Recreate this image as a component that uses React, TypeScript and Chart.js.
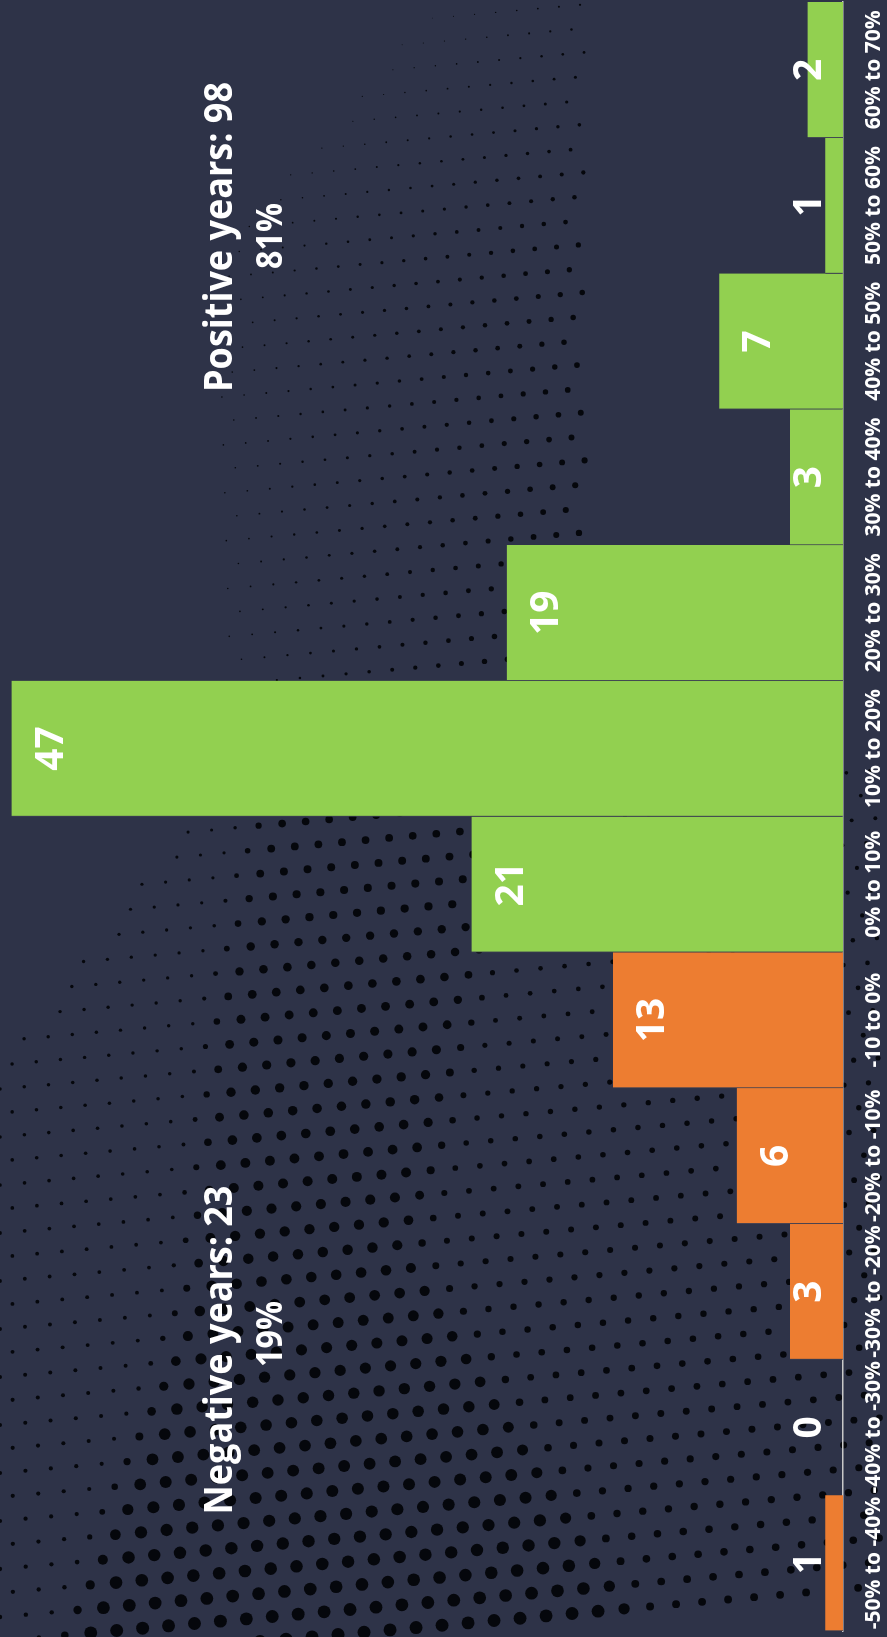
import React, { useEffect, useRef } from 'react';
import { Chart, registerables } from 'chart.js';

Chart.register(...registerables);

// ---- data ----
const categories = [
  '-50% to -40%',
  '-40% to -30%',
  '-30% to -20%',
  '-20% to -10%',
  '-10 to 0%',
  '0% to 10%',
  '10% to 20%',
  '20% to 30%',
  '30% to 40%',
  '40% to 50%',
  '50% to 60%',
  '60% to 70%',
];
const yearCounts = [1, 0, 3, 6, 13, 21, 47, 19, 3, 7, 1, 2];
const negativeNote = ['Negative years: 23', '19%'];
const positiveNote = ['Positive years: 98', '81%'];

// ---- styles ----
const W = 887;
const H = 1637;
const BG = '#2e3348';
const ORANGE = '#ed7d31';
const GREEN = '#92d050';
const FONT = '"Open Sans", "DejaVu Sans", sans-serif';

const clamp01 = (v: number) => Math.min(1, Math.max(0, v));
const smooth = (a: number, b: number, v: number) => {
  const t = clamp01((v - a) / (b - a));
  return t * t * (3 - 2 * t);
};

// decorative halftone background (portrait coordinates)
function dotRadius(x: number, y: number): number {
  if (y < 760) {
    const L = y < 250 ? 450 - y * 0.8 : 240;
    if (x < L - 20 || x > 585) return 0;
    const f = clamp01((x - L) / (580 - L));
    const fadeTop = y < 250 ? 0.5 + 0.5 * (y / 250) : 1;
    return (0.8 + 2.8 * f * (0.5 + 0.5 * y / 760)) * fadeTop;
  }
  const k = (y - 760) / 877;
  const xl = y < 1000 ? 280 - (y - 760) * 0.2 : y < 1300 ? 232 - (y - 1000) * 0.1 : 202 - (y - 1300) * 0.35;
  const xr = y < 900 ? 480 : y < 1250 ? 480 - (y - 900) * 0.23 : 400 + (y - 1250) * 0.6;
  const leftStart = y < 1060 ? 240 - (y - 760) * 0.8 : -10;
  if (x < leftStart) return 0;
  const small = 1.5 + 0.7 * k;
  const big = 3.6 + 2.9 * k;
  const right = 1.8 + 2.2 * k;
  const inBand = smooth(xl - 40, xl + 10, x) * (1 - smooth(xr - 10, xr + 40, x));
  const base = x < xl ? small : right;
  return base + (big - base) * inBand;
}

function drawDots(ctx: CanvasRenderingContext2D) {
  ctx.fillStyle = BG;
  ctx.fillRect(0, 0, W, H);
  ctx.fillStyle = '#030409';
  let row = 0;
  for (let Y = 6; Y < H + 20; Y += 24, row++) {
    const sx = 21 + 5 * (Y / H);
    const offset = (row % 2) * sx * 0.5;
    for (let X = offset; X < 880; X += sx) {
      const yy = Y - 0.09 * (X - 300);
      const r = dotRadius(X, yy);
      if (r <= 0.3) continue;
      ctx.globalAlpha = 0.94;
      ctx.beginPath();
      ctx.arc(X, yy, r, 0, Math.PI * 2);
      ctx.fill();
    }
  }
  ctx.globalAlpha = 1;
}

function drawScaled(ctx: CanvasRenderingContext2D, text: string, cx: number, baseline: number, sx: number) {
  ctx.save();
  ctx.translate(cx, baseline);
  ctx.scale(sx, 1);
  ctx.fillText(text, 0, 0);
  ctx.restore();
}

const labelPlugin = {
  id: 'valueLabels',
  afterDatasetsDraw(chart: any) {
    const ctx: CanvasRenderingContext2D = chart.ctx;
    const meta = chart.getDatasetMeta(0);
    ctx.save();
    ctx.fillStyle = '#ffffff';
    ctx.textAlign = 'center';
    ctx.textBaseline = 'alphabetic';
    ctx.font = `bold 40px ${FONT}`;
    meta.data.forEach((el: any, i: number) => {
      const { x, y, base } = el.getProps(['x', 'y', 'base'], true);
      const cy = Math.min(y + 37, base - 36);
      drawScaled(ctx, String(yearCounts[i]), x, cy + 14.3, 0.97);
    });
    // notes
    ctx.font = `bold 40px ${FONT}`;
    drawScaled(ctx, negativeNote[0], 287, 231.5, 0.9);
    drawScaled(ctx, positiveNote[0], 1400, 231.5, 0.9);
    ctx.font = `bold 35px ${FONT}`;
    drawScaled(ctx, negativeNote[1], 303, 281.5, 0.92);
    drawScaled(ctx, positiveNote[1], 1401, 281.5, 0.92);
    ctx.restore();
  },
};

export default function App() {
  const bgRef = useRef<HTMLCanvasElement>(null);
  const chartRef = useRef<HTMLCanvasElement>(null);

  useEffect(() => {
    const bg = bgRef.current;
    if (bg) {
      const c = bg.getContext('2d');
      if (c) drawDots(c);
    }
    const canvas = chartRef.current;
    if (!canvas) return;
    const chart = new Chart(canvas, {
      type: 'bar',
      data: {
        labels: categories,
        datasets: [
          {
            data: yearCounts,
            backgroundColor: categories.map((c) => (c.startsWith('-') ? ORANGE : GREEN)),
            borderColor: '#3b3f52',
            borderWidth: { left: 1, right: 0, top: 0, bottom: 0 },
            barPercentage: 1,
            categoryPercentage: 1,
          },
        ],
      },
      options: {
        responsive: false,
        animation: false,
        devicePixelRatio: 1,
        layout: { autoPadding: false, padding: { left: 6, right: 2, top: 0, bottom: 0 } },
        plugins: {
          legend: { display: false },
          tooltip: { enabled: false },
          title: { display: false },
        },
        scales: {
          x: {
            grid: { display: false, drawTicks: false },
            border: { display: true, color: '#c8c8c8', width: 1.5 },
            ticks: {
              color: '#ffffff',
              font: { family: FONT, size: 21, weight: 'bold' },
              maxRotation: 0,
              minRotation: 0,
              autoSkip: false,
              padding: 18,
            },
            afterFit: (scale: any) => {
              scale.height = 44;
              scale.paddingLeft = 0;
              scale.paddingRight = 0;
            },
          },
          y: {
            display: false,
            min: 0,
            max: 47.65,
          },
        },
      },
      plugins: [labelPlugin],
    } as any);
    return () => chart.destroy();
  }, []);

  return (
    <div
      style={{
        position: 'absolute',
        left: 0,
        top: 0,
        width: W,
        height: H,
        overflow: 'hidden',
        background: BG,
      }}
    >
      <canvas
        ref={bgRef}
        width={W}
        height={H}
        style={{ position: 'absolute', left: 0, top: 0, display: 'block' }}
      />
      <div
        style={{
          position: 'absolute',
          left: 0,
          top: 0,
          width: H,
          height: W,
          transformOrigin: '0 0',
          transform: `translateY(${H}px) rotate(-90deg)`,
        }}
      >
        <canvas ref={chartRef} width={H} height={W} style={{ display: 'block' }} />
      </div>
    </div>
  );
}
